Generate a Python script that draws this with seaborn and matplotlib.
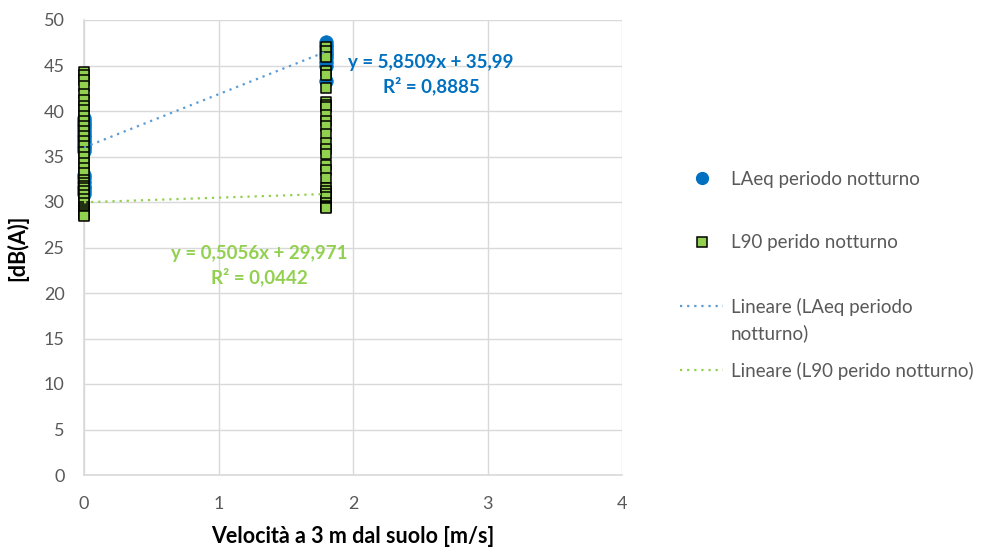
import matplotlib
matplotlib.use("Agg")
import matplotlib.pyplot as plt
import seaborn as sns
import pandas as pd
from matplotlib.lines import Line2D

# wind speeds at 3 m (two measurement classes)
speeds = [0.0, 1.8]

# LAeq periodo notturno [dB(A)]
laeq_v0 = [39.2, 38.9, 38.6, 38.3, 38.0, 37.7, 37.4, 37.1, 36.8, 36.5,
           36.2, 35.9, 35.6, 33.0, 32.6, 32.2, 31.8, 31.5, 31.2, 30.9]
laeq_v18 = [47.6, 47.3, 47.0, 46.7, 46.4, 46.1, 45.8, 45.4, 44.9, 43.3]

# L90 perido notturno [dB(A)]
l90_v0 = [44.3, 44.0, 43.4, 42.8, 41.9, 41.2, 40.6, 40.1, 39.5, 38.9,
          38.4, 37.8, 37.3, 36.7, 36.1, 35.5, 34.9, 34.3, 33.7, 33.2,
          32.4, 32.1, 31.8, 31.5, 31.2, 30.8, 30.3, 29.9, 29.5, 29.2,
          29.0, 28.8, 28.6, 28.5]
l90_v18 = [47.0, 46.6, 45.9, 44.4, 44.0, 42.5, 41.0, 40.7, 40.4, 39.6,
           38.9, 38.3, 37.5, 36.5, 35.8, 35.3, 34.1, 33.5, 32.6, 31.5,
           31.2, 30.9, 30.5, 29.9, 29.6, 29.4, 29.3]

# linear trend lines (Excel)
fit_slope = [5.8509, 0.5056]
fit_intercept = [35.99, 29.971]
fit_r2 = [0.8885, 0.0442]

series_names = ["LAeq periodo notturno", "L90 perido notturno"]
trend_names = ["Lineare (LAeq periodo\nnotturno)", "Lineare (L90 perido notturno)"]

laeq = pd.DataFrame({"v": [speeds[0]] * len(laeq_v0) + [speeds[1]] * len(laeq_v18),
                     "db": laeq_v0 + laeq_v18})
l90 = pd.DataFrame({"v": [speeds[0]] * len(l90_v0) + [speeds[1]] * len(l90_v18),
                    "db": l90_v0 + l90_v18})

sns.set_style("white")
plt.rcParams["font.family"] = ["Lato", "DejaVu Sans"]

blue = "#0070C0"
green = "#92D050"
trend_blue = "#5B9BD5"
grey_txt = "#595959"
grid_c = "#D9D9D9"

fig = plt.figure(figsize=(9.84, 5.52), dpi=100)
ax = fig.add_axes([84 / 984, 1 - 475 / 552, (622 - 84) / 984, (475 - 20) / 552])

sns.scatterplot(data=laeq, x="v", y="db", ax=ax, color=blue, marker="o",
                s=95, edgecolor=blue, linewidth=0.5, zorder=3, clip_on=False)
sns.scatterplot(data=l90, x="v", y="db", ax=ax, color=green, marker="s",
                s=55, edgecolor="black", linewidth=1.1, zorder=4, clip_on=False)

# trend lines
for i, c in enumerate([trend_blue, green]):
    xs = [min(speeds), max(speeds)]
    ys = [fit_slope[i] * x + fit_intercept[i] for x in xs]
    sns.lineplot(x=xs, y=ys, ax=ax, color=c, linestyle=(0, (1, 2.2)),
                 linewidth=1.6, zorder=5)


def eq_text(i):
    s = f"{fit_slope[i]:.4f}".replace(".", ",")
    q = f"{fit_intercept[i]:g}".replace(".", ",")
    r = f"{fit_r2[i]:.4f}".replace(".", ",")
    return f"y = {s}x + {q}\nR² = {r}"


ax.text(2.58, 44.0, eq_text(0), color=blue, fontsize=13.5, fontweight="bold",
        ha="center", va="center", multialignment="center", linespacing=1.3, zorder=6)
ax.text(1.305, 23.0, eq_text(1), color=green, fontsize=13.5, fontweight="bold",
        ha="center", va="center", multialignment="center", linespacing=1.3, zorder=6)

ax.set_xlim(0, 4)
ax.set_ylim(0, 50)
ax.set_xticks([0, 1, 2, 3, 4])
ax.set_yticks(range(0, 51, 5))
ax.grid(True, color=grid_c, linewidth=1)
ax.set_axisbelow(True)
for side in ["top", "right"]:
    ax.spines[side].set_visible(False)
for side in ["left", "bottom"]:
    ax.spines[side].set_color(grid_c)
    ax.spines[side].set_linewidth(1.2)
ax.tick_params(axis="y", length=0, pad=14, labelsize=13, labelcolor=grey_txt)
ax.tick_params(axis="x", length=0, pad=15, labelsize=13, labelcolor=grey_txt)
ax.set_xlabel("Velocità a 3 m dal suolo [m/s]", fontsize=15.5, fontweight="bold",
              color="black", labelpad=10)
ax.set_ylabel("[dB(A)]", fontsize=15.5, fontweight="bold", color="black", labelpad=11)

handles = [
    Line2D([], [], linestyle="none", marker="o", markersize=8.5, color=blue),
    Line2D([], [], linestyle="none", marker="s", markersize=7.5,
           markerfacecolor=green, markeredgecolor="black", markeredgewidth=1.1),
    Line2D([], [], color=trend_blue, linestyle=(0, (1, 2.2)), linewidth=1.6),
    Line2D([], [], color=green, linestyle=(0, (1, 2.2)), linewidth=1.6),
]
labels = [series_names[0], series_names[1],
          trend_names[0].split("\n")[0], trend_names[1]]
leg = fig.legend(handles, labels, loc="upper left",
                 bbox_to_anchor=(680 / 984, 1 - 171 / 552), frameon=False,
                 fontsize=13.5, labelspacing=2.47, handlelength=2.3,
                 handletextpad=0.4, borderpad=0, borderaxespad=0)
for t in leg.get_texts():
    t.set_color(grey_txt)

# second line of the wrapped legend label
fig.canvas.draw()
bb = leg.get_texts()[2].get_window_extent()
fig.text(bb.x0 / 984, (bb.y0 - 26) / 552, trend_names[0].split("\n")[1],
         fontsize=13.5, color=grey_txt, ha="left", va="bottom")

fig.savefig("out.png", dpi=100)
